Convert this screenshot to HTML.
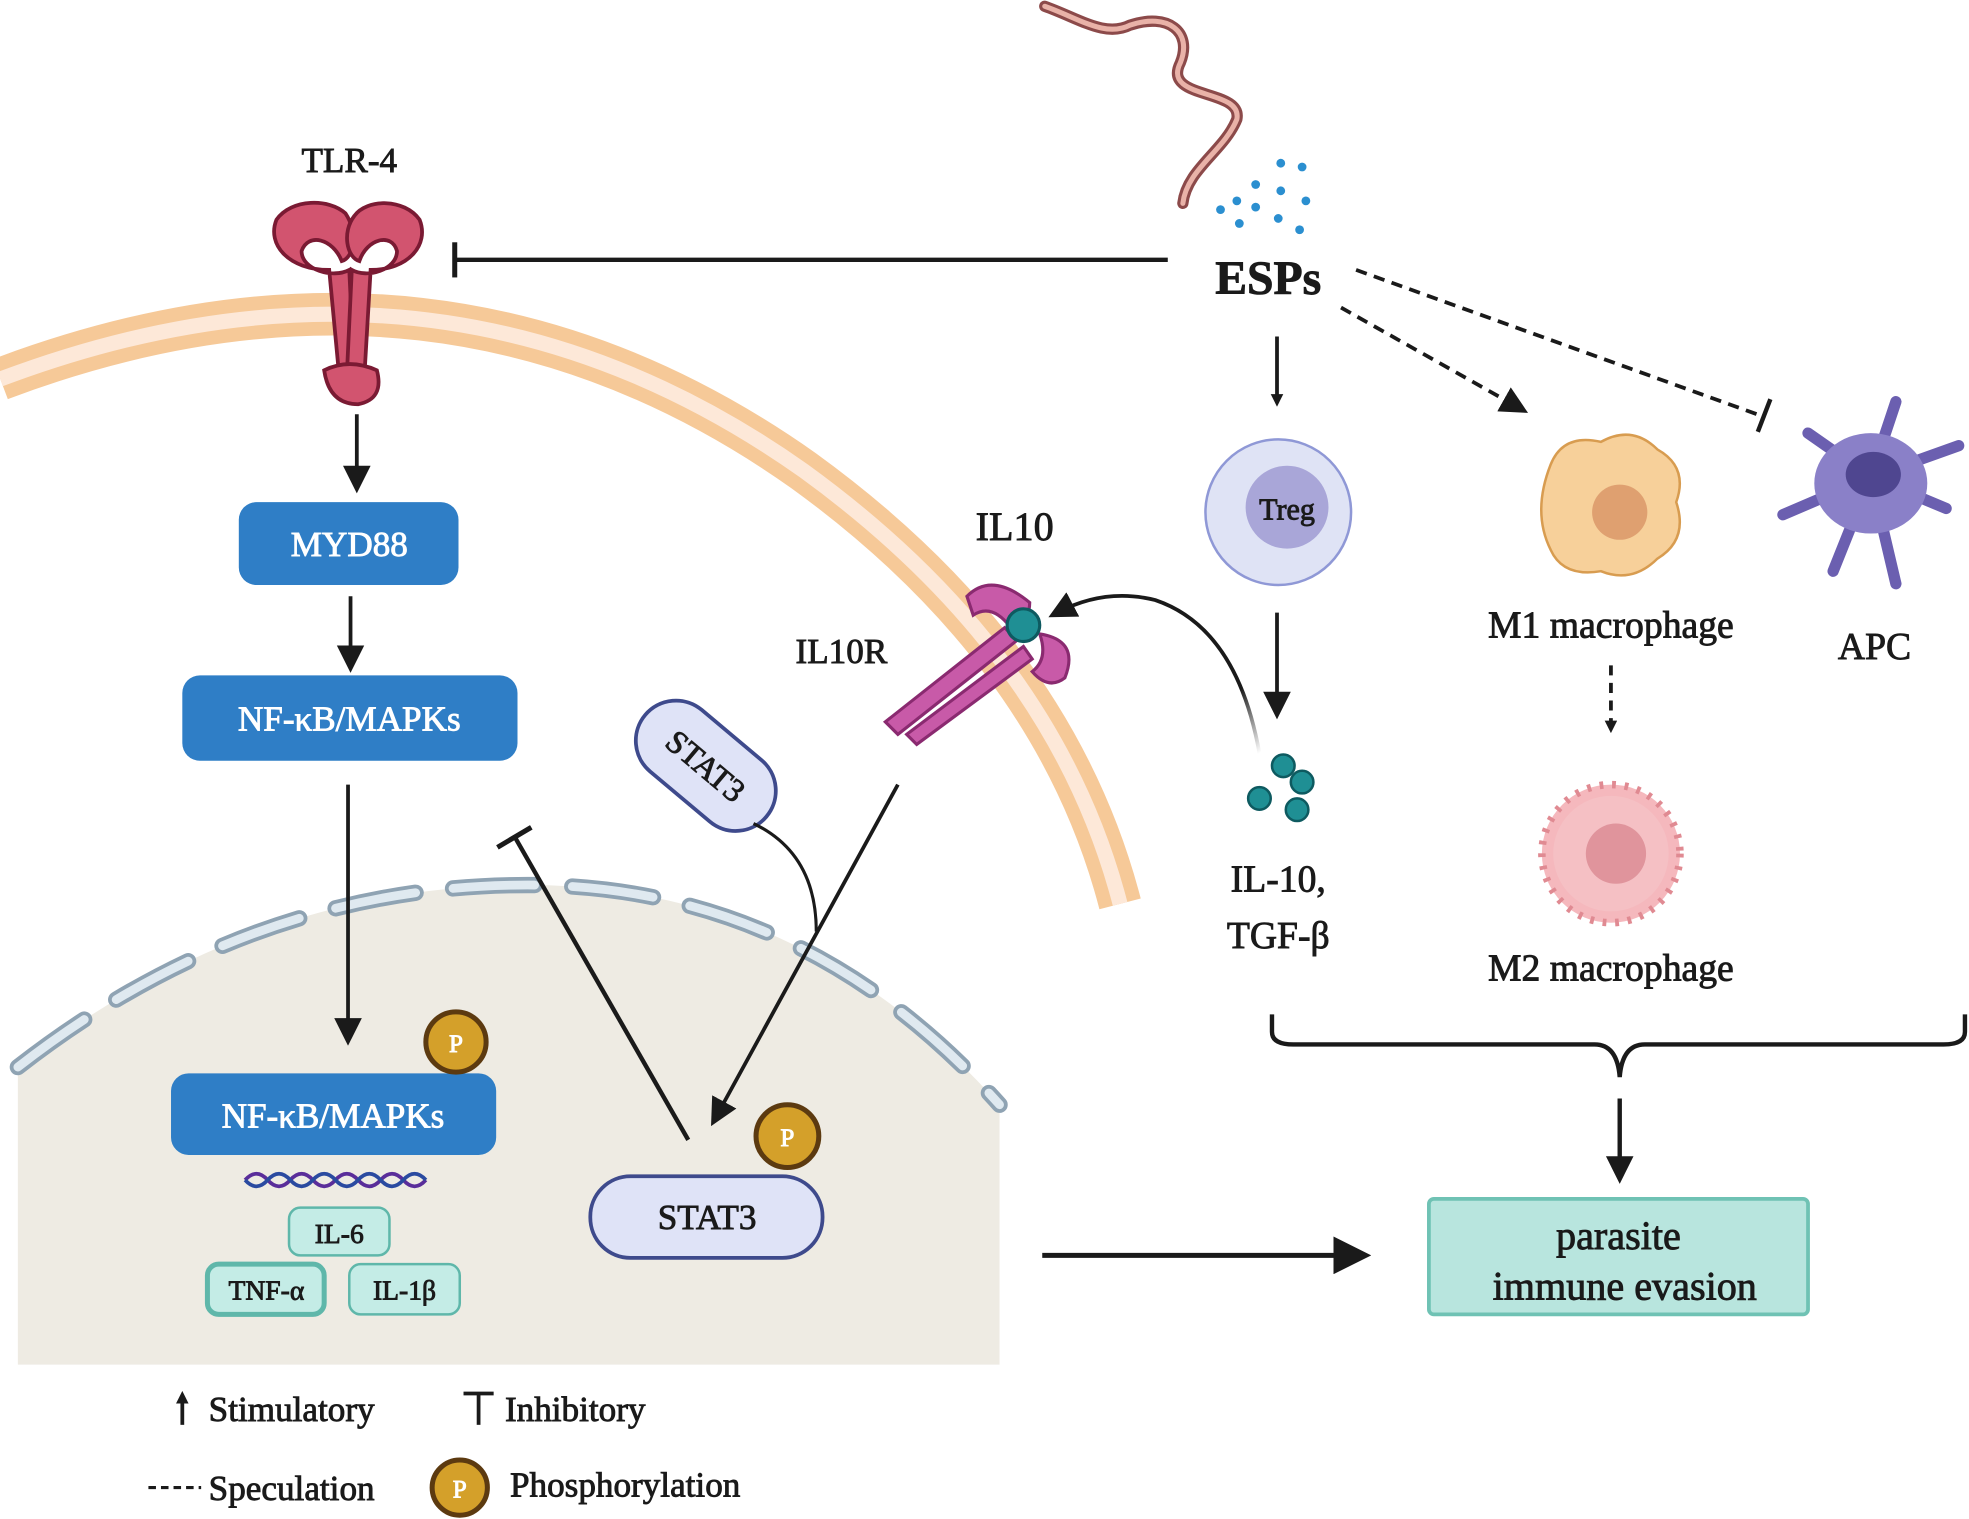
<!DOCTYPE html>
<html><head><meta charset="utf-8"><style>html,body{margin:0;padding:0;background:#fff}svg{display:block}text{font-family:"Liberation Serif",serif;fill:#1a1a1a;stroke:#1a1a1a;stroke-width:0.7}</style></head><body>
<svg width="1969" height="1519" viewBox="0 0 1568 1210" xmlns="http://www.w3.org/2000/svg">
<defs>
<marker id="ah" markerWidth="10" markerHeight="10" refX="6" refY="5" orient="auto" markerUnits="userSpaceOnUse" viewBox="0 0 10 10"><path d="M0,0 L10,5 L0,10 z" fill="#1a1a1a"/></marker>
<marker id="ahb" markerWidth="30" markerHeight="30" refX="20" refY="15" orient="auto" markerUnits="userSpaceOnUse"><path d="M0,0 L30,15 L0,30 z" fill="#1a1a1a"/></marker>
<marker id="ahm" markerWidth="22" markerHeight="22" refX="14" refY="11" orient="auto" markerUnits="userSpaceOnUse"><path d="M0,0 L22,11 L0,22 z" fill="#1a1a1a"/></marker>
<linearGradient id="fade" x1="1" y1="1" x2="0" y2="0"><stop offset="0" stop-color="#fff"/><stop offset="0.25" stop-color="#1a1a1a"/></linearGradient>
</defs>
<path d="M14,850 Q200,705 420,705 Q640,705 796,880 L796,1087 L14,1087 Z" fill="#eeebe3"/>
<path d="M14,850 Q200,705 420,705 Q640,705 796,880" fill="none" stroke="#8fa3b3" stroke-width="13" stroke-dasharray="65,30" stroke-linecap="round"/>
<path d="M14,850 Q200,705 420,705 Q640,705 796,880" fill="none" stroke="#dfe9f0" stroke-width="7" stroke-dasharray="65,30" stroke-linecap="round"/>
<path d="M0,302 Q350,170 640,375 Q840,520 892,720" fill="none" stroke="#f6c998" stroke-width="34"/>
<path d="M0,302 Q350,170 640,375 Q840,520 892,720" fill="none" stroke="#fde8d8" stroke-width="12"/>
<text x="278" y="137" font-size="28" text-anchor="middle">TLR-4</text>
<g fill="#d2546f" stroke="#7a1a33" stroke-width="3">
<path d="M270,300 L262,215 C230,215 212,195 220,175 C232,158 262,158 275,170 C285,185 282,205 272,208 C265,190 245,185 240,200 C240,215 265,222 278,215 L282,300 Z"/>
<path d="M290,300 L295,215 C325,215 342,195 334,175 C322,158 292,158 282,172 C272,185 276,205 286,208 C292,190 312,185 316,200 C316,215 292,222 280,215 L276,300 Z"/>
<path d="M258,295 Q278,285 300,295 Q306,318 285,322 Q262,322 258,295 Z"/>
</g>
<path d="M832,5 C860,15 880,30 900,20 C930,10 950,25 940,50 C925,80 990,70 985,95 C975,120 945,135 942,162" fill="none" stroke="#8c4a4a" stroke-width="9" stroke-linecap="round"/>
<path d="M832,5 C860,15 880,30 900,20 C930,10 950,25 940,50 C925,80 990,70 985,95 C975,120 945,135 942,162" fill="none" stroke="#e9b2a8" stroke-width="4" stroke-linecap="round"/>
<g fill="#2b8fd0">
<circle cx="1020" cy="130" r="3.5"/><circle cx="1037" cy="133" r="3.5"/><circle cx="1000" cy="147" r="3.5"/><circle cx="1020" cy="152" r="3.5"/><circle cx="985" cy="160" r="3.5"/><circle cx="1040" cy="160" r="3.5"/><circle cx="972" cy="167" r="3.5"/><circle cx="1000" cy="165" r="3.5"/><circle cx="1018" cy="174" r="3.5"/><circle cx="987" cy="178" r="3.5"/><circle cx="1035" cy="183" r="3.5"/>
</g>
<text x="1010" y="234" font-size="38" font-weight="bold" text-anchor="middle">ESPs</text>
<line x1="930" y1="207" x2="362" y2="207" stroke="#1a1a1a" stroke-width="3.5"/>
<line x1="362" y1="193" x2="362" y2="221" stroke="#1a1a1a" stroke-width="4"/>
<line x1="1017" y1="268" x2="1017" y2="320" stroke="#1a1a1a" stroke-width="3" marker-end="url(#ah)"/>
<line x1="1068" y1="245" x2="1210" y2="325" stroke="#1a1a1a" stroke-width="3" stroke-dasharray="9,6" marker-end="url(#ahm)"/>
<line x1="1080" y1="215" x2="1405" y2="332" stroke="#1a1a1a" stroke-width="3" stroke-dasharray="9,6"/>
<line x1="1400" y1="344" x2="1410" y2="318" stroke="#1a1a1a" stroke-width="3.5"/>
<circle cx="1018" cy="408" r="58" fill="#dfe3f5" stroke="#8f98d6" stroke-width="2"/>
<circle cx="1025" cy="404" r="33" fill="#a9a6d8"/>
<text x="1025" y="414" font-size="24" text-anchor="middle">Treg</text>
<line x1="1017" y1="488" x2="1017" y2="565" stroke="#1a1a1a" stroke-width="3" marker-end="url(#ahm)"/>
<g fill="#1f8f94" stroke="#0e5a60" stroke-width="2"><circle cx="1022" cy="610" r="9"/><circle cx="1037" cy="623" r="9"/><circle cx="1003" cy="636" r="9"/><circle cx="1033" cy="645" r="9"/></g>
<text x="1018" y="710" font-size="30" text-anchor="middle">IL-10,</text>
<text x="1018" y="755" font-size="30" text-anchor="middle">TGF-β</text>
<path d="M1235,370 Q1245,345 1275,352 Q1300,338 1320,358 Q1345,372 1335,400 Q1345,430 1320,445 Q1300,465 1275,455 Q1245,460 1235,438 Q1220,408 1235,370Z" fill="#f7d09a" stroke="#d89c50" stroke-width="2"/>
<circle cx="1290" cy="408" r="22" fill="#dfa070"/>
<text x="1283" y="508" font-size="30" text-anchor="middle">M1 macrophage</text>
<line x1="1283" y1="530" x2="1283" y2="580" stroke="#1a1a1a" stroke-width="3" stroke-dasharray="8,6" marker-end="url(#ah)"/>
<circle cx="1283" cy="680" r="55" fill="#f5b8bd" stroke="#e08a92" stroke-width="6" stroke-dasharray="3,7"/>
<circle cx="1283" cy="680" r="46" fill="#f5c0c4"/>
<circle cx="1287" cy="680" r="24" fill="#e0949c"/>
<text x="1283" y="781" font-size="30" text-anchor="middle">M2 macrophage</text>
<g stroke="#6b5fb0" stroke-width="9" stroke-linecap="round" fill="none">
<path d="M1490,380 L1510,320"/><path d="M1490,380 L1440,345"/><path d="M1490,380 L1420,410"/><path d="M1490,380 L1550,405"/><path d="M1490,380 L1510,465"/><path d="M1490,380 L1460,455"/><path d="M1490,380 L1560,355"/>
</g>
<ellipse cx="1490" cy="385" rx="45" ry="40" fill="#8a80c8"/>
<ellipse cx="1492" cy="378" rx="22" ry="18" fill="#4f4690"/>
<text x="1493" y="525" font-size="30" text-anchor="middle">APC</text>
<path d="M1013,808 L1013,822 Q1013,832 1030,832 L1270,832 Q1288,832 1290,858 Q1292,832 1310,832 L1548,832 Q1565,832 1565,822 L1565,808" fill="none" stroke="#1a1a1a" stroke-width="3.5"/>
<line x1="1290" y1="875" x2="1290" y2="935" stroke="#1a1a1a" stroke-width="3.5" marker-end="url(#ahm)"/>
<rect x="1138" y="955" width="302" height="92" rx="4" fill="#b8e5de" stroke="#6fc2b4" stroke-width="3"/>
<text x="1289" y="995" font-size="32" text-anchor="middle">parasite</text>
<text x="1294" y="1035" font-size="32" text-anchor="middle">immune evasion</text>
<line x1="830" y1="1000" x2="1082" y2="1000" stroke="#1a1a1a" stroke-width="4" marker-end="url(#ahb)"/>
<line x1="284" y1="330" x2="284" y2="385" stroke="#1a1a1a" stroke-width="3" marker-end="url(#ahm)"/>
<rect x="190" y="400" width="175" height="66" rx="14" fill="#2f7ec6"/>
<text x="278" y="443" font-size="28" style="fill:#fff;stroke:#fff" text-anchor="middle">MYD88</text>
<line x1="279" y1="475" x2="279" y2="528" stroke="#1a1a1a" stroke-width="3" marker-end="url(#ahm)"/>
<rect x="145" y="538" width="267" height="68" rx="14" fill="#2f7ec6"/>
<text x="278" y="582" font-size="28" style="fill:#fff;stroke:#fff" text-anchor="middle">NF-κB/MAPKs</text>
<line x1="277" y1="625" x2="277" y2="825" stroke="#1a1a1a" stroke-width="3" marker-end="url(#ahm)"/>
<rect x="136" y="855" width="259" height="65" rx="14" fill="#2f7ec6"/>
<text x="265" y="898" font-size="28" style="fill:#fff;stroke:#fff" text-anchor="middle">NF-κB/MAPKs</text>
<circle cx="363" cy="830" r="24" fill="#d4a02a" stroke="#5c3a10" stroke-width="4"/>
<text x="363" y="838" font-size="20" text-anchor="middle" style="fill:#fff;stroke:#fff">P</text>
<path d="M195,940 q9,-10 18,0 t18,0 t18,0 t18,0 t18,0 t18,0 t18,0 t18,0" fill="none" stroke="#5a2d9a" stroke-width="3"/>
<path d="M195,940 q9,10 18,0 t18,0 t18,0 t18,0 t18,0 t18,0 t18,0 t18,0" fill="none" stroke="#2a4aa0" stroke-width="3"/>
<g fill="#c4ece6" stroke="#5fb7aa" stroke-width="2"><rect x="230" y="962" width="80" height="38" rx="9"/><rect x="165" y="1007" width="93" height="40" rx="9" stroke-width="4"/><rect x="278" y="1007" width="88" height="40" rx="9"/></g>
<text x="270" y="990" font-size="22" text-anchor="middle">IL-6</text>
<text x="212" y="1035" font-size="22" text-anchor="middle">TNF-α</text>
<text x="322" y="1035" font-size="22" text-anchor="middle">IL-1β</text>
<line x1="548" y1="908" x2="410" y2="667" stroke="#1a1a1a" stroke-width="3.5"/>
<line x1="396" y1="675" x2="423" y2="659" stroke="#1a1a1a" stroke-width="4"/>
<g transform="translate(562,610) rotate(40)"><rect x="-63" y="-32" width="126" height="64" rx="32" fill="#dfe3f7" stroke="#3e4a8c" stroke-width="3"/><text x="0" y="9" font-size="26" text-anchor="middle">STAT3</text></g>
<path d="M600,656 Q650,680 650,742" fill="none" stroke="#1a1a1a" stroke-width="2.5"/>
<line x1="715" y1="625" x2="570" y2="890" stroke="#1a1a1a" stroke-width="3" marker-end="url(#ahm)"/>
<circle cx="627" cy="905" r="25" fill="#d4a02a" stroke="#5c3a10" stroke-width="4"/>
<text x="627" y="913" font-size="20" text-anchor="middle" style="fill:#fff;stroke:#fff">P</text>
<rect x="470" y="937" width="185" height="65" rx="32" fill="#dfe3f7" stroke="#3e4a8c" stroke-width="3"/>
<text x="563" y="979" font-size="28" text-anchor="middle">STAT3</text>
<text x="808" y="430" font-size="32" text-anchor="middle">IL10</text>
<text x="670" y="528" font-size="28" text-anchor="middle">IL10R</text>
<g fill="#c85aa8" stroke="#8a2a70" stroke-width="2.5">
<path d="M705,575 L800,500 L810,510 L715,585 Z"/><path d="M722,585 L815,515 L822,525 L730,593 Z"/>
<path d="M770,475 Q790,455 820,480 Q820,495 805,500 Q790,480 775,490 Z"/>
<path d="M828,505 Q860,510 848,540 Q835,550 822,535 Q835,525 828,505Z"/>
</g>
<circle cx="815" cy="498" r="13" fill="#1f8f94" stroke="#0e5a60" stroke-width="2.5"/>
<path d="M1003,600 Q985,500 920,478 Q880,468 842,488" fill="none" stroke="url(#fade)" stroke-width="3" marker-end="url(#ahm)"/>
<line x1="145" y1="1135" x2="145" y2="1112" stroke="#1a1a1a" stroke-width="3" marker-end="url(#ah)"/>
<text x="166" y="1132" font-size="28">Stimulatory</text>
<line x1="381" y1="1110" x2="381" y2="1135" stroke="#1a1a1a" stroke-width="3"/><line x1="369" y1="1110" x2="393" y2="1110" stroke="#1a1a1a" stroke-width="3"/>
<text x="402" y="1132" font-size="28">Inhibitory</text>
<line x1="118" y1="1185" x2="160" y2="1185" stroke="#1a1a1a" stroke-width="2.5" stroke-dasharray="6,4"/>
<text x="166" y="1195" font-size="28">Speculation</text>
<circle cx="366" cy="1185" r="22" fill="#d4a02a" stroke="#5c3a10" stroke-width="4"/>
<text x="366" y="1193" font-size="20" text-anchor="middle" style="fill:#fff;stroke:#fff">P</text>
<text x="406" y="1192" font-size="28">Phosphorylation</text>
</svg>
</body></html>
